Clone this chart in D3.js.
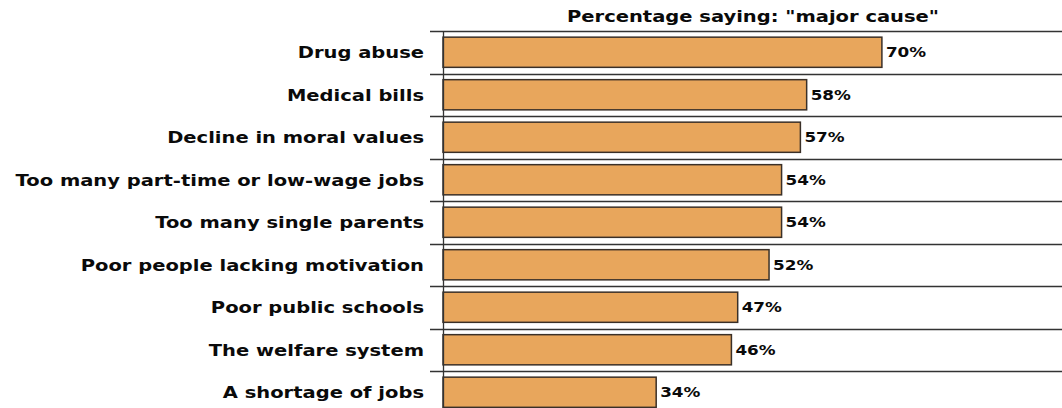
<!DOCTYPE html>
<html>
<head>
<meta charset="utf-8">
<script src="https://cdn.jsdelivr.net/npm/d3@7"></script>
<style>
  html, body { margin: 0; padding: 0; background: #fff; }
  svg { display: block; }
  text { font-family: "DejaVu Sans", Verdana, sans-serif; font-weight: bold; fill: #0a0a0a; }
</style>
</head>
<body>
<svg id="chart" width="1062" height="408"></svg>
<script>
"use strict"

var causes = [
    "Drug abuse",
    "Medical bills",
    "Decline in moral values",
    "Too many part-time or low-wage jobs",
    "Too many single parents",
    "Poor people lacking motivation",
    "Poor public schools",
    "The welfare system",
    "A shortage of jobs"
];
var majorCause = [70, 58, 57, 54, 54, 52, 47, 46, 34];
var chartTitle = 'Percentage saying: "major cause"';

var width   = 1062;
var height  = 408;
var axisX   = 443;
var topY    = 31;
var step    = 42.5;
var stretch = 1.22;   // the original type is a wide, heavy face

var rows = causes.map((c, i) => ({ label: c, value: majorCause[i] }));

var svg = d3.select('#chart');

var x = d3.scaleLinear()
    .domain([0, 100])
    .range([axisX, axisX + 627]);

var y = d3.scaleBand()
    .domain(causes)
    .range([topY, topY + step * causes.length])
    .paddingInner(0.29)
    .paddingOuter(0.145);

var mid = d => y(d.label) + y.bandwidth() / 2;

// title
svg.append('text')
    .attr('transform', 'translate(753,22) scale(' + stretch + ',1)')
    .attr('text-anchor', 'middle')
    .attr('font-size', '16px')
    .text(chartTitle);

// separator lines between rows
var seps = d3.range(causes.length).map(i => topY + i * step);
svg.selectAll('line.sep').data(seps)
    .enter()
    .append('line')
    .attr('class', 'sep')
    .attr('x1', axisX - 13)
    .attr('x2', width)
    .attr('y1', d => Math.round(d) + 0.5)
    .attr('y2', d => Math.round(d) + 0.5)
    .style('stroke', '#333')
    .style('stroke-width', 1.3);

// bars
svg.selectAll('rect.bar').data(rows)
    .enter()
    .append('rect')
    .attr('class', 'bar')
    .attr('x', x(0))
    .attr('y', d => y(d.label))
    .attr('width', d => x(d.value) - x(0))
    .attr('height', y.bandwidth())
    .style('fill', '#E8A65C')
    .style('stroke', '#3a3028')
    .style('stroke-width', 1.5);

// vertical axis line
svg.append('line')
    .attr('x1', axisX + 0.5)
    .attr('x2', axisX + 0.5)
    .attr('y1', topY)
    .attr('y2', height)
    .style('stroke', '#333')
    .style('stroke-width', 1.3);

// category labels
svg.selectAll('text.cat').data(rows)
    .enter()
    .append('text')
    .attr('class', 'cat')
    .attr('transform', d => 'translate(424,' + mid(d) + ') scale(' + stretch + ',1)')
    .attr('dy', '0.36em')
    .attr('text-anchor', 'end')
    .attr('font-size', '16px')
    .text(d => d.label);

// value labels
svg.selectAll('text.val').data(rows)
    .enter()
    .append('text')
    .attr('class', 'val')
    .attr('transform', d => 'translate(' + (x(d.value) + 4) + ',' + mid(d) + ') scale(1.2,1)')
    .attr('dy', '0.36em')
    .attr('font-size', '14px')
    .text(d => d.value + '%');
</script>
</body>
</html>
